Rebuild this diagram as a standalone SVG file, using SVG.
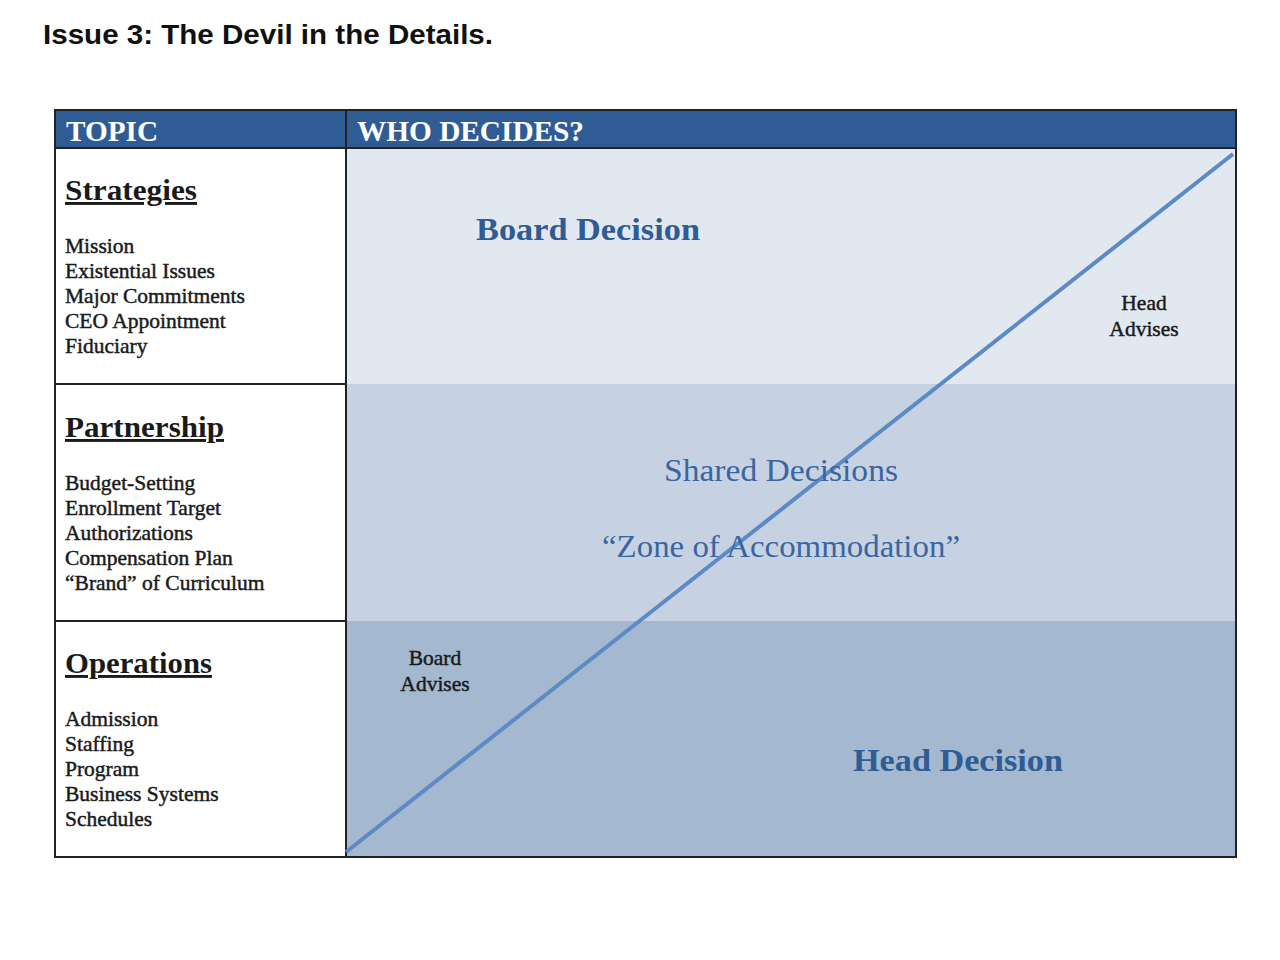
<svg xmlns="http://www.w3.org/2000/svg" width="1280" height="960" viewBox="0 0 1280 960">
<style>
.s{font-family:"Liberation Serif","DejaVu Serif",serif}
.hd{font-size:29px;font-weight:bold;fill:#fff}
.cat{font-size:29px;font-weight:bold;fill:#1a1a1a;text-decoration:underline}
.it{font-size:21.5px;fill:#1a1a1a;stroke:#1a1a1a;stroke-width:0.45}
.zn{fill:#2f5c94}
</style>
<rect width="1280" height="960" fill="#fff"/>
<text x="43" y="44" font-family="Liberation Sans,sans-serif" font-size="28" font-weight="bold" fill="#111" textLength="450" lengthAdjust="spacingAndGlyphs">Issue 3: The Devil in the Details.</text>
<g id="table">
<rect x="55" y="110" width="1181" height="38" fill="#2f5c94"/>
<rect x="346" y="148" width="890" height="236" fill="#e2e8f0"/>
<rect x="346" y="384" width="890" height="237" fill="#c6d2e1"/>
<rect x="346" y="621" width="890" height="236" fill="#a4b8cf"/>
<rect x="55" y="110" width="1181" height="747" fill="none" stroke="#222" stroke-width="2"/>
<line x1="346" y1="110" x2="346" y2="857" stroke="#222" stroke-width="2"/>
<line x1="55" y1="148" x2="1236" y2="148" stroke="#222" stroke-width="2"/>
<line x1="55" y1="384" x2="346" y2="384" stroke="#222" stroke-width="2"/>
<line x1="55" y1="621" x2="346" y2="621" stroke="#222" stroke-width="2"/>
<text class="s hd" x="66" y="141" textLength="92" lengthAdjust="spacingAndGlyphs">TOPIC</text>
<text class="s hd" x="357" y="141" textLength="227" lengthAdjust="spacingAndGlyphs">WHO DECIDES?</text>
</g>
<g id="strategies" class="s">
<text class="cat" x="65" y="200" textLength="132" lengthAdjust="spacingAndGlyphs">Strategies</text>
<text class="it" x="65" y="253">Mission</text>
<text class="it" x="65" y="278">Existential Issues</text>
<text class="it" x="65" y="303">Major Commitments</text>
<text class="it" x="65" y="328">CEO Appointment</text>
<text class="it" x="65" y="353">Fiduciary</text>
</g>
<g id="partnership" class="s">
<text class="cat" x="65" y="437" textLength="159" lengthAdjust="spacingAndGlyphs">Partnership</text>
<text class="it" x="65" y="490">Budget-Setting</text>
<text class="it" x="65" y="515">Enrollment Target</text>
<text class="it" x="65" y="540">Authorizations</text>
<text class="it" x="65" y="565">Compensation Plan</text>
<text class="it" x="65" y="590">“Brand” of Curriculum</text>
</g>
<g id="operations" class="s">
<text class="cat" x="65" y="673" textLength="147" lengthAdjust="spacingAndGlyphs">Operations</text>
<text class="it" x="65" y="726">Admission</text>
<text class="it" x="65" y="751">Staffing</text>
<text class="it" x="65" y="776">Program</text>
<text class="it" x="65" y="801">Business Systems</text>
<text class="it" x="65" y="826">Schedules</text>
</g>
<g id="connectors">
<line x1="346" y1="852" x2="1233" y2="154" stroke="#5b8ac4" stroke-width="4"/>
</g>
<g id="zones" class="s">
<text class="zn" x="476" y="240" font-size="31" font-weight="bold" textLength="224" lengthAdjust="spacingAndGlyphs">Board Decision</text>
<text class="it" x="1144" y="310" text-anchor="middle">Head</text>
<text class="it" x="1144" y="336" text-anchor="middle">Advises</text>
<text x="664" y="481" font-size="31" fill="#3a65a0" textLength="234" lengthAdjust="spacingAndGlyphs">Shared Decisions</text>
<text x="602" y="557" font-size="31" fill="#3a65a0" textLength="358" lengthAdjust="spacingAndGlyphs">“Zone of Accommodation”</text>
<text class="it" x="435" y="665" text-anchor="middle">Board</text>
<text class="it" x="435" y="691" text-anchor="middle">Advises</text>
<text class="zn" x="853" y="771" font-size="31" font-weight="bold" textLength="210" lengthAdjust="spacingAndGlyphs">Head Decision</text>
</g>
</svg>
